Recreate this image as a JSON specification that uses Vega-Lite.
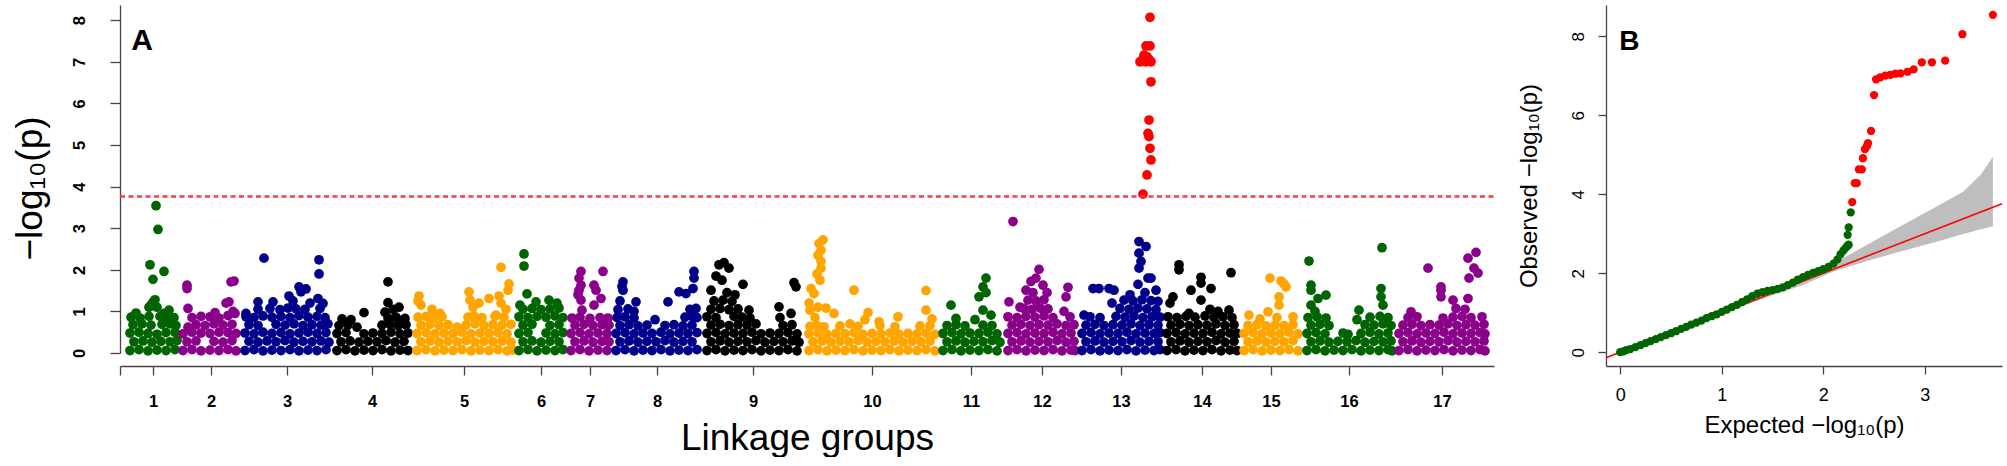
{
"$schema": "https://vega.github.io/schema/vega-lite/v6.json",
"background": "white",
"padding": {"left": 10, "top": 5, "right": 5, "bottom": 0},
"bounds": "flush",
"spacing": 112,
"config": {"view": {"stroke": null}, "font": "Liberation Sans",
 "axis": {"grid": false, "domainColor": "#444", "tickColor": "#444", "domainWidth": 1.3, "tickWidth": 1.3, "labelColor": "#000", "titleColor": "#000", "labelFont": "Liberation Sans", "titleFont": "Liberation Sans", "titleFontWeight": "normal", "labelOverlap": false, "labelFlush": false}},
"datasets": {
"man": [
{"g":1,"x":10,"y":0.06},{"g":1,"x":19,"y":0.08},{"g":1,"x":28,"y":0.05},{"g":1,"x":37,"y":0.07},{"g":1,"x":46,"y":0.06},{"g":1,"x":55,"y":0.08},
{"g":1,"x":14,"y":0.27},{"g":1,"x":23,"y":0.29},{"g":1,"x":32,"y":0.26},{"g":1,"x":41,"y":0.28},{"g":1,"x":50,"y":0.27},{"g":1,"x":57,"y":0.3},
{"g":1,"x":10,"y":0.48},{"g":1,"x":19,"y":0.5},{"g":1,"x":28,"y":0.47},{"g":1,"x":37,"y":0.45},{"g":1,"x":46,"y":0.49},{"g":1,"x":55,"y":0.5},
{"g":1,"x":13,"y":0.68},{"g":1,"x":22,"y":0.7},{"g":1,"x":31,"y":0.67},{"g":1,"x":42,"y":0.69},{"g":1,"x":50,"y":0.7},{"g":1,"x":56,"y":0.66},
{"g":1,"x":11,"y":0.86},{"g":1,"x":20,"y":0.84},{"g":1,"x":29,"y":0.88},{"g":1,"x":46,"y":0.87},{"g":1,"x":54,"y":0.85},
{"g":1,"x":16,"y":0.96},{"g":1,"x":29,"y":1.1},{"g":1,"x":33,"y":1.22},{"g":1,"x":35,"y":1.28},{"g":1,"x":31,"y":1.15},{"g":1,"x":37,"y":1.1},{"g":1,"x":49,"y":1.03},{"g":1,"x":44,"y":0.95},{"g":1,"x":36,"y":3.54},{"g":1,"x":38,"y":2.97},{"g":1,"x":30,"y":2.12},{"g":1,"x":44,"y":1.96},{"g":1,"x":33,"y":1.77},{"g":1,"x":40,"y":0.88},
{"g":2,"x":63,"y":0.06},{"g":2,"x":72,"y":0.08},{"g":2,"x":81,"y":0.05},{"g":2,"x":90,"y":0.07},{"g":2,"x":99,"y":0.06},{"g":2,"x":108,"y":0.08},{"g":2,"x":116,"y":0.05},
{"g":2,"x":67,"y":0.27},{"g":2,"x":76,"y":0.29},{"g":2,"x":94,"y":0.28},{"g":2,"x":103,"y":0.26},{"g":2,"x":112,"y":0.3},
{"g":2,"x":63,"y":0.46},{"g":2,"x":72,"y":0.5},{"g":2,"x":81,"y":0.48},{"g":2,"x":90,"y":0.47},{"g":2,"x":99,"y":0.5},{"g":2,"x":108,"y":0.49},{"g":2,"x":116,"y":0.47},
{"g":2,"x":68,"y":0.62},{"g":2,"x":76,"y":0.68},{"g":2,"x":85,"y":0.66},{"g":2,"x":94,"y":0.7},{"g":2,"x":103,"y":0.67},{"g":2,"x":112,"y":0.69},
{"g":2,"x":72,"y":0.85},{"g":2,"x":81,"y":0.88},{"g":2,"x":90,"y":0.87},{"g":2,"x":99,"y":0.84},{"g":2,"x":108,"y":0.9},{"g":2,"x":115,"y":0.95},
{"g":2,"x":67,"y":1.63},{"g":2,"x":67,"y":1.55},{"g":2,"x":68,"y":1.07},{"g":2,"x":114,"y":1.73},{"g":2,"x":111,"y":1.71},{"g":2,"x":109,"y":1.23},{"g":2,"x":106,"y":1.2},{"g":2,"x":113,"y":1.0},{"g":2,"x":95,"y":0.97},
{"g":3,"x":125,"y":0.06},{"g":3,"x":134,"y":0.08},{"g":3,"x":143,"y":0.05},{"g":3,"x":152,"y":0.07},{"g":3,"x":161,"y":0.06},{"g":3,"x":170,"y":0.08},{"g":3,"x":179,"y":0.05},{"g":3,"x":188,"y":0.07},{"g":3,"x":197,"y":0.06},{"g":3,"x":206,"y":0.08},
{"g":3,"x":129,"y":0.28},{"g":3,"x":138,"y":0.26},{"g":3,"x":147,"y":0.29},{"g":3,"x":156,"y":0.27},{"g":3,"x":165,"y":0.3},{"g":3,"x":174,"y":0.26},{"g":3,"x":183,"y":0.28},{"g":3,"x":192,"y":0.27},{"g":3,"x":201,"y":0.29},{"g":3,"x":209,"y":0.26},
{"g":3,"x":125,"y":0.48},{"g":3,"x":134,"y":0.46},{"g":3,"x":143,"y":0.5},{"g":3,"x":152,"y":0.47},{"g":3,"x":161,"y":0.49},{"g":3,"x":170,"y":0.46},{"g":3,"x":179,"y":0.48},{"g":3,"x":188,"y":0.5},{"g":3,"x":197,"y":0.47},{"g":3,"x":206,"y":0.49},
{"g":3,"x":129,"y":0.68},{"g":3,"x":138,"y":0.66},{"g":3,"x":156,"y":0.69},{"g":3,"x":165,"y":0.67},{"g":3,"x":174,"y":0.7},{"g":3,"x":183,"y":0.66},{"g":3,"x":192,"y":0.68},{"g":3,"x":201,"y":0.67},{"g":3,"x":208,"y":0.7},
{"g":3,"x":126,"y":0.87},{"g":3,"x":134,"y":0.85},{"g":3,"x":143,"y":0.89},{"g":3,"x":152,"y":0.86},{"g":3,"x":161,"y":0.88},{"g":3,"x":170,"y":0.85},{"g":3,"x":179,"y":0.9},{"g":3,"x":188,"y":0.86},{"g":3,"x":197,"y":0.88},{"g":3,"x":205,"y":0.85},
{"g":3,"x":138,"y":1.05},{"g":3,"x":150,"y":1.07},{"g":3,"x":160,"y":1.04},{"g":3,"x":168,"y":1.08},{"g":3,"x":176,"y":1.06},{"g":3,"x":185,"y":1.05},{"g":3,"x":200,"y":1.07},
{"g":3,"x":138,"y":1.23},{"g":3,"x":153,"y":1.23},{"g":3,"x":169,"y":1.37},{"g":3,"x":179,"y":1.59},{"g":3,"x":186,"y":1.54},{"g":3,"x":181,"y":1.47},{"g":3,"x":198,"y":1.31},{"g":3,"x":173,"y":1.25},{"g":3,"x":190,"y":1.2},{"g":3,"x":144,"y":2.28},{"g":3,"x":199,"y":2.24},{"g":3,"x":199,"y":1.9},{"g":3,"x":203,"y":1.19},{"g":3,"x":126,"y":0.95},
{"g":4,"x":217,"y":0.06},{"g":4,"x":226,"y":0.08},{"g":4,"x":235,"y":0.05},{"g":4,"x":244,"y":0.07},{"g":4,"x":253,"y":0.06},{"g":4,"x":262,"y":0.08},{"g":4,"x":271,"y":0.05},{"g":4,"x":280,"y":0.07},{"g":4,"x":288,"y":0.06},
{"g":4,"x":221,"y":0.27},{"g":4,"x":230,"y":0.29},{"g":4,"x":239,"y":0.26},{"g":4,"x":248,"y":0.28},{"g":4,"x":257,"y":0.27},{"g":4,"x":266,"y":0.3},{"g":4,"x":275,"y":0.26},{"g":4,"x":284,"y":0.28},
{"g":4,"x":217,"y":0.47},{"g":4,"x":226,"y":0.49},{"g":4,"x":244,"y":0.46},{"g":4,"x":253,"y":0.48},{"g":4,"x":262,"y":0.47},{"g":4,"x":271,"y":0.5},{"g":4,"x":280,"y":0.46},{"g":4,"x":288,"y":0.48},
{"g":4,"x":219,"y":0.66},{"g":4,"x":228,"y":0.68},{"g":4,"x":262,"y":0.67},{"g":4,"x":270,"y":0.69},{"g":4,"x":278,"y":0.66},{"g":4,"x":286,"y":0.68},
{"g":4,"x":222,"y":0.82},{"g":4,"x":231,"y":0.8},{"g":4,"x":268,"y":0.84},{"g":4,"x":276,"y":0.86},{"g":4,"x":285,"y":0.83},
{"g":4,"x":268,"y":1.71},{"g":4,"x":268,"y":1.21},{"g":4,"x":244,"y":0.97},{"g":4,"x":279,"y":1.1},{"g":4,"x":283,"y":0.79},{"g":4,"x":273,"y":1.05},{"g":4,"x":265,"y":0.98},{"g":4,"x":237,"y":0.62},
{"g":5,"x":297,"y":0.06},{"g":5,"x":306,"y":0.08},{"g":5,"x":315,"y":0.05},{"g":5,"x":324,"y":0.07},{"g":5,"x":333,"y":0.06},{"g":5,"x":342,"y":0.08},{"g":5,"x":351,"y":0.05},{"g":5,"x":360,"y":0.07},{"g":5,"x":369,"y":0.06},{"g":5,"x":378,"y":0.08},{"g":5,"x":387,"y":0.05},{"g":5,"x":393,"y":0.07},
{"g":5,"x":301,"y":0.27},{"g":5,"x":310,"y":0.29},{"g":5,"x":319,"y":0.26},{"g":5,"x":328,"y":0.28},{"g":5,"x":337,"y":0.27},{"g":5,"x":346,"y":0.3},{"g":5,"x":355,"y":0.26},{"g":5,"x":364,"y":0.28},{"g":5,"x":373,"y":0.27},{"g":5,"x":382,"y":0.29},{"g":5,"x":391,"y":0.26},
{"g":5,"x":297,"y":0.47},{"g":5,"x":306,"y":0.49},{"g":5,"x":315,"y":0.46},{"g":5,"x":324,"y":0.48},{"g":5,"x":333,"y":0.47},{"g":5,"x":342,"y":0.5},{"g":5,"x":351,"y":0.46},{"g":5,"x":360,"y":0.48},{"g":5,"x":369,"y":0.47},{"g":5,"x":378,"y":0.49},{"g":5,"x":387,"y":0.46},
{"g":5,"x":301,"y":0.67},{"g":5,"x":310,"y":0.69},{"g":5,"x":319,"y":0.66},{"g":5,"x":328,"y":0.68},{"g":5,"x":346,"y":0.67},{"g":5,"x":355,"y":0.7},{"g":5,"x":364,"y":0.66},{"g":5,"x":373,"y":0.68},{"g":5,"x":382,"y":0.67},{"g":5,"x":391,"y":0.69},
{"g":5,"x":298,"y":0.86},{"g":5,"x":306,"y":0.88},{"g":5,"x":314,"y":0.85},{"g":5,"x":322,"y":0.87},{"g":5,"x":348,"y":0.86},{"g":5,"x":354,"y":0.89},{"g":5,"x":362,"y":0.85},{"g":5,"x":375,"y":0.88},{"g":5,"x":384,"y":0.86},
{"g":5,"x":299,"y":1.37},{"g":5,"x":301,"y":1.15},{"g":5,"x":312,"y":1.05},{"g":5,"x":320,"y":0.95},{"g":5,"x":349,"y":1.47},{"g":5,"x":350,"y":1.27},{"g":5,"x":353,"y":1.1},{"g":5,"x":359,"y":1.2},{"g":5,"x":369,"y":1.31},{"g":5,"x":379,"y":1.37},{"g":5,"x":381,"y":1.2},{"g":5,"x":376,"y":0.91},{"g":5,"x":381,"y":2.06},{"g":5,"x":389,"y":1.66},{"g":5,"x":388,"y":1.51},{"g":5,"x":386,"y":1.05},{"g":5,"x":298,"y":1.25},{"g":5,"x":337,"y":0.62},
{"g":6,"x":399,"y":0.06},{"g":6,"x":408,"y":0.08},{"g":6,"x":417,"y":0.05},{"g":6,"x":426,"y":0.07},{"g":6,"x":435,"y":0.06},{"g":6,"x":443,"y":0.08},
{"g":6,"x":403,"y":0.27},{"g":6,"x":412,"y":0.29},{"g":6,"x":421,"y":0.26},{"g":6,"x":430,"y":0.28},{"g":6,"x":439,"y":0.27},
{"g":6,"x":399,"y":0.47},{"g":6,"x":408,"y":0.49},{"g":6,"x":426,"y":0.48},{"g":6,"x":435,"y":0.46},{"g":6,"x":443,"y":0.49},
{"g":6,"x":403,"y":0.67},{"g":6,"x":412,"y":0.69},{"g":6,"x":430,"y":0.66},{"g":6,"x":439,"y":0.68},
{"g":6,"x":399,"y":0.87},{"g":6,"x":408,"y":0.85},{"g":6,"x":417,"y":0.88},{"g":6,"x":426,"y":0.86},{"g":6,"x":435,"y":0.89},{"g":6,"x":443,"y":0.85},
{"g":6,"x":403,"y":1.05},{"g":6,"x":412,"y":1.07},{"g":6,"x":421,"y":1.04},{"g":6,"x":430,"y":1.06},{"g":6,"x":439,"y":1.08},
{"g":6,"x":404,"y":2.38},{"g":6,"x":404,"y":2.09},{"g":6,"x":407,"y":1.42},{"g":6,"x":429,"y":1.27},{"g":6,"x":416,"y":1.23},{"g":6,"x":437,"y":1.2},{"g":6,"x":400,"y":1.15},
{"g":7,"x":451,"y":0.06},{"g":7,"x":460,"y":0.08},{"g":7,"x":469,"y":0.05},{"g":7,"x":478,"y":0.07},{"g":7,"x":487,"y":0.06},
{"g":7,"x":455,"y":0.27},{"g":7,"x":464,"y":0.29},{"g":7,"x":473,"y":0.26},{"g":7,"x":482,"y":0.28},{"g":7,"x":489,"y":0.27},
{"g":7,"x":451,"y":0.47},{"g":7,"x":460,"y":0.49},{"g":7,"x":469,"y":0.46},{"g":7,"x":478,"y":0.48},{"g":7,"x":487,"y":0.47},
{"g":7,"x":455,"y":0.67},{"g":7,"x":464,"y":0.69},{"g":7,"x":473,"y":0.66},{"g":7,"x":482,"y":0.68},{"g":7,"x":489,"y":0.67},
{"g":7,"x":452,"y":0.84},{"g":7,"x":460,"y":0.86},{"g":7,"x":470,"y":0.83},{"g":7,"x":480,"y":0.85},{"g":7,"x":488,"y":0.84},
{"g":7,"x":461,"y":1.96},{"g":7,"x":459,"y":1.8},{"g":7,"x":461,"y":1.63},{"g":7,"x":459,"y":1.51},{"g":7,"x":461,"y":1.27},{"g":7,"x":483,"y":1.96},{"g":7,"x":474,"y":1.63},{"g":7,"x":476,"y":1.51},{"g":7,"x":481,"y":1.31},{"g":7,"x":474,"y":1.15},{"g":7,"x":462,"y":1.03},{"g":7,"x":458,"y":1.4},
{"g":8,"x":496,"y":0.06},{"g":8,"x":505,"y":0.08},{"g":8,"x":514,"y":0.05},{"g":8,"x":523,"y":0.07},{"g":8,"x":532,"y":0.06},{"g":8,"x":541,"y":0.08},{"g":8,"x":550,"y":0.05},{"g":8,"x":559,"y":0.07},{"g":8,"x":568,"y":0.06},{"g":8,"x":577,"y":0.08},
{"g":8,"x":500,"y":0.27},{"g":8,"x":509,"y":0.29},{"g":8,"x":518,"y":0.26},{"g":8,"x":527,"y":0.28},{"g":8,"x":536,"y":0.27},{"g":8,"x":545,"y":0.3},{"g":8,"x":554,"y":0.26},{"g":8,"x":563,"y":0.28},{"g":8,"x":572,"y":0.27},
{"g":8,"x":496,"y":0.47},{"g":8,"x":505,"y":0.49},{"g":8,"x":514,"y":0.46},{"g":8,"x":523,"y":0.48},{"g":8,"x":532,"y":0.47},{"g":8,"x":541,"y":0.5},{"g":8,"x":550,"y":0.46},{"g":8,"x":559,"y":0.48},{"g":8,"x":568,"y":0.47},{"g":8,"x":577,"y":0.49},
{"g":8,"x":500,"y":0.66},{"g":8,"x":509,"y":0.68},{"g":8,"x":518,"y":0.65},{"g":8,"x":527,"y":0.67},{"g":8,"x":545,"y":0.66},{"g":8,"x":554,"y":0.68},{"g":8,"x":563,"y":0.65},{"g":8,"x":572,"y":0.67},
{"g":8,"x":497,"y":0.85},{"g":8,"x":505,"y":0.87},{"g":8,"x":514,"y":0.84},{"g":8,"x":565,"y":0.86},{"g":8,"x":572,"y":0.88},{"g":8,"x":577,"y":0.85},
{"g":8,"x":498,"y":1.04},{"g":8,"x":508,"y":1.06},{"g":8,"x":570,"y":1.05},{"g":8,"x":576,"y":1.07},
{"g":8,"x":503,"y":1.71},{"g":8,"x":503,"y":1.51},{"g":8,"x":502,"y":1.6},{"g":8,"x":516,"y":1.23},{"g":8,"x":514,"y":1.0},{"g":8,"x":574,"y":1.96},{"g":8,"x":574,"y":1.8},{"g":8,"x":559,"y":1.47},{"g":8,"x":548,"y":1.23},{"g":8,"x":566,"y":1.43},{"g":8,"x":573,"y":1.55},{"g":8,"x":500,"y":1.25},{"g":8,"x":535,"y":0.8},
{"g":9,"x":587,"y":0.06},{"g":9,"x":596,"y":0.08},{"g":9,"x":605,"y":0.05},{"g":9,"x":614,"y":0.07},{"g":9,"x":623,"y":0.06},{"g":9,"x":632,"y":0.08},{"g":9,"x":641,"y":0.05},{"g":9,"x":650,"y":0.07},{"g":9,"x":659,"y":0.06},{"g":9,"x":668,"y":0.08},{"g":9,"x":677,"y":0.05},
{"g":9,"x":591,"y":0.27},{"g":9,"x":600,"y":0.29},{"g":9,"x":609,"y":0.26},{"g":9,"x":618,"y":0.28},{"g":9,"x":627,"y":0.27},{"g":9,"x":636,"y":0.3},{"g":9,"x":645,"y":0.26},{"g":9,"x":654,"y":0.28},{"g":9,"x":663,"y":0.27},{"g":9,"x":672,"y":0.29},{"g":9,"x":679,"y":0.26},
{"g":9,"x":587,"y":0.47},{"g":9,"x":596,"y":0.49},{"g":9,"x":605,"y":0.46},{"g":9,"x":614,"y":0.48},{"g":9,"x":623,"y":0.47},{"g":9,"x":632,"y":0.5},{"g":9,"x":641,"y":0.46},{"g":9,"x":650,"y":0.48},{"g":9,"x":659,"y":0.47},{"g":9,"x":668,"y":0.49},{"g":9,"x":677,"y":0.46},
{"g":9,"x":591,"y":0.67},{"g":9,"x":600,"y":0.69},{"g":9,"x":609,"y":0.66},{"g":9,"x":618,"y":0.68},{"g":9,"x":627,"y":0.67},{"g":9,"x":636,"y":0.7},{"g":9,"x":663,"y":0.66},{"g":9,"x":672,"y":0.68},
{"g":9,"x":587,"y":0.87},{"g":9,"x":596,"y":0.85},{"g":9,"x":614,"y":0.88},{"g":9,"x":622,"y":0.86},{"g":9,"x":630,"y":0.84},
{"g":9,"x":591,"y":1.05},{"g":9,"x":600,"y":1.07},{"g":9,"x":609,"y":1.04},{"g":9,"x":618,"y":1.06},
{"g":9,"x":594,"y":1.25},{"g":9,"x":603,"y":1.27},{"g":9,"x":612,"y":1.24},
{"g":9,"x":604,"y":2.17},{"g":9,"x":599,"y":2.12},{"g":9,"x":609,"y":2.04},{"g":9,"x":596,"y":1.85},{"g":9,"x":602,"y":1.75},{"g":9,"x":623,"y":1.65},{"g":9,"x":591,"y":1.51},{"g":9,"x":607,"y":1.45},{"g":9,"x":615,"y":1.4},{"g":9,"x":629,"y":1.03},{"g":9,"x":674,"y":1.69},{"g":9,"x":676,"y":1.59},{"g":9,"x":659,"y":1.11},{"g":9,"x":671,"y":0.95},{"g":9,"x":660,"y":0.85},
{"g":10,"x":689,"y":0.06},{"g":10,"x":698,"y":0.08},{"g":10,"x":707,"y":0.05},{"g":10,"x":716,"y":0.07},{"g":10,"x":725,"y":0.06},{"g":10,"x":734,"y":0.08},{"g":10,"x":743,"y":0.05},{"g":10,"x":752,"y":0.07},{"g":10,"x":761,"y":0.06},{"g":10,"x":770,"y":0.08},{"g":10,"x":779,"y":0.05},{"g":10,"x":788,"y":0.07},{"g":10,"x":797,"y":0.06},{"g":10,"x":806,"y":0.08},{"g":10,"x":815,"y":0.05},
{"g":10,"x":693,"y":0.27},{"g":10,"x":702,"y":0.29},{"g":10,"x":711,"y":0.26},{"g":10,"x":720,"y":0.28},{"g":10,"x":729,"y":0.27},{"g":10,"x":738,"y":0.3},{"g":10,"x":747,"y":0.26},{"g":10,"x":756,"y":0.28},{"g":10,"x":765,"y":0.27},{"g":10,"x":774,"y":0.29},{"g":10,"x":783,"y":0.26},{"g":10,"x":792,"y":0.28},{"g":10,"x":801,"y":0.27},{"g":10,"x":810,"y":0.29},
{"g":10,"x":689,"y":0.46},{"g":10,"x":698,"y":0.48},{"g":10,"x":707,"y":0.45},{"g":10,"x":716,"y":0.47},{"g":10,"x":725,"y":0.46},{"g":10,"x":734,"y":0.49},{"g":10,"x":743,"y":0.45},{"g":10,"x":752,"y":0.47},{"g":10,"x":761,"y":0.46},{"g":10,"x":770,"y":0.48},{"g":10,"x":779,"y":0.45},{"g":10,"x":788,"y":0.47},{"g":10,"x":797,"y":0.46},{"g":10,"x":806,"y":0.48},{"g":10,"x":815,"y":0.45},
{"g":10,"x":690,"y":0.64},{"g":10,"x":697,"y":0.66},{"g":10,"x":704,"y":0.63},{"g":10,"x":720,"y":0.65},{"g":10,"x":730,"y":0.7},{"g":10,"x":738,"y":0.64},{"g":10,"x":745,"y":0.8},{"g":10,"x":760,"y":0.66},{"g":10,"x":775,"y":0.63},{"g":10,"x":800,"y":0.65},{"g":10,"x":810,"y":0.66},
{"g":10,"x":703,"y":2.72},{"g":10,"x":699,"y":2.63},{"g":10,"x":701,"y":2.47},{"g":10,"x":698,"y":2.35},{"g":10,"x":701,"y":2.2},{"g":10,"x":701,"y":2.04},{"g":10,"x":697,"y":1.9},{"g":10,"x":700,"y":1.75},{"g":10,"x":691,"y":1.55},{"g":10,"x":694,"y":1.43},{"g":10,"x":689,"y":1.2},{"g":10,"x":690,"y":1.03},{"g":10,"x":698,"y":1.1},{"g":10,"x":695,"y":0.85},{"g":10,"x":706,"y":1.08},{"g":10,"x":714,"y":0.95},{"g":10,"x":734,"y":1.51},{"g":10,"x":748,"y":0.97},{"g":10,"x":778,"y":0.87},{"g":10,"x":806,"y":1.5},{"g":10,"x":806,"y":1.03},{"g":10,"x":759,"y":0.75},{"g":10,"x":812,"y":0.82},
{"g":11,"x":823,"y":0.06},{"g":11,"x":832,"y":0.08},{"g":11,"x":841,"y":0.05},{"g":11,"x":850,"y":0.07},{"g":11,"x":859,"y":0.06},{"g":11,"x":868,"y":0.08},{"g":11,"x":877,"y":0.05},
{"g":11,"x":827,"y":0.27},{"g":11,"x":836,"y":0.29},{"g":11,"x":845,"y":0.26},{"g":11,"x":854,"y":0.28},{"g":11,"x":863,"y":0.27},{"g":11,"x":872,"y":0.3},{"g":11,"x":880,"y":0.26},
{"g":11,"x":823,"y":0.47},{"g":11,"x":832,"y":0.49},{"g":11,"x":841,"y":0.46},{"g":11,"x":850,"y":0.48},{"g":11,"x":859,"y":0.47},{"g":11,"x":868,"y":0.5},{"g":11,"x":877,"y":0.46},
{"g":11,"x":827,"y":0.66},{"g":11,"x":836,"y":0.68},{"g":11,"x":845,"y":0.65},{"g":11,"x":863,"y":0.67},{"g":11,"x":872,"y":0.66},
{"g":11,"x":866,"y":1.8},{"g":11,"x":863,"y":1.59},{"g":11,"x":859,"y":1.35},{"g":11,"x":831,"y":1.15},{"g":11,"x":836,"y":0.83},{"g":11,"x":871,"y":0.91},{"g":11,"x":863,"y":1.03},{"g":11,"x":866,"y":1.45},{"g":11,"x":855,"y":0.8},
{"g":12,"x":888,"y":0.06},{"g":12,"x":897,"y":0.08},{"g":12,"x":906,"y":0.05},{"g":12,"x":915,"y":0.07},{"g":12,"x":924,"y":0.06},{"g":12,"x":933,"y":0.08},{"g":12,"x":942,"y":0.05},{"g":12,"x":951,"y":0.07},{"g":12,"x":955,"y":0.06},
{"g":12,"x":892,"y":0.27},{"g":12,"x":901,"y":0.29},{"g":12,"x":910,"y":0.26},{"g":12,"x":919,"y":0.28},{"g":12,"x":928,"y":0.27},{"g":12,"x":937,"y":0.3},{"g":12,"x":946,"y":0.26},{"g":12,"x":954,"y":0.28},
{"g":12,"x":888,"y":0.47},{"g":12,"x":897,"y":0.49},{"g":12,"x":906,"y":0.46},{"g":12,"x":915,"y":0.48},{"g":12,"x":924,"y":0.47},{"g":12,"x":933,"y":0.5},{"g":12,"x":942,"y":0.46},{"g":12,"x":951,"y":0.48},
{"g":12,"x":892,"y":0.67},{"g":12,"x":901,"y":0.69},{"g":12,"x":910,"y":0.66},{"g":12,"x":919,"y":0.68},{"g":12,"x":928,"y":0.67},{"g":12,"x":937,"y":0.7},{"g":12,"x":946,"y":0.66},{"g":12,"x":954,"y":0.68},
{"g":12,"x":888,"y":0.87},{"g":12,"x":897,"y":0.85},{"g":12,"x":906,"y":0.88},{"g":12,"x":915,"y":0.86},{"g":12,"x":924,"y":0.89},{"g":12,"x":933,"y":0.85},{"g":12,"x":950,"y":0.87},
{"g":12,"x":904,"y":1.07},{"g":12,"x":912,"y":1.05},{"g":12,"x":920,"y":1.08},{"g":12,"x":928,"y":1.06},
{"g":12,"x":908,"y":1.27},{"g":12,"x":916,"y":1.25},{"g":12,"x":924,"y":1.28},
{"g":12,"x":893,"y":3.16},{"g":12,"x":919,"y":2.01},{"g":12,"x":911,"y":1.72},{"g":12,"x":916,"y":1.8},{"g":12,"x":923,"y":1.63},{"g":12,"x":906,"y":1.51},{"g":12,"x":927,"y":1.45},{"g":12,"x":889,"y":1.23},{"g":12,"x":948,"y":1.58},{"g":12,"x":946,"y":1.35},{"g":12,"x":944,"y":1.0},{"g":12,"x":913,"y":1.45},{"g":12,"x":900,"y":1.1},
{"g":13,"x":962,"y":0.06},{"g":13,"x":971,"y":0.08},{"g":13,"x":980,"y":0.05},{"g":13,"x":989,"y":0.07},{"g":13,"x":998,"y":0.06},{"g":13,"x":1007,"y":0.08},{"g":13,"x":1016,"y":0.05},{"g":13,"x":1025,"y":0.07},{"g":13,"x":1034,"y":0.06},{"g":13,"x":1040,"y":0.08},
{"g":13,"x":966,"y":0.27},{"g":13,"x":975,"y":0.29},{"g":13,"x":984,"y":0.26},{"g":13,"x":993,"y":0.28},{"g":13,"x":1002,"y":0.27},{"g":13,"x":1011,"y":0.3},{"g":13,"x":1020,"y":0.26},{"g":13,"x":1029,"y":0.28},{"g":13,"x":1038,"y":0.27},
{"g":13,"x":962,"y":0.47},{"g":13,"x":971,"y":0.49},{"g":13,"x":980,"y":0.46},{"g":13,"x":989,"y":0.48},{"g":13,"x":998,"y":0.47},{"g":13,"x":1007,"y":0.5},{"g":13,"x":1016,"y":0.46},{"g":13,"x":1025,"y":0.48},{"g":13,"x":1034,"y":0.47},{"g":13,"x":1040,"y":0.49},
{"g":13,"x":966,"y":0.67},{"g":13,"x":975,"y":0.69},{"g":13,"x":984,"y":0.66},{"g":13,"x":993,"y":0.68},{"g":13,"x":1002,"y":0.67},{"g":13,"x":1011,"y":0.7},{"g":13,"x":1020,"y":0.66},{"g":13,"x":1029,"y":0.68},{"g":13,"x":1038,"y":0.67},
{"g":13,"x":970,"y":0.87},{"g":13,"x":980,"y":0.85},{"g":13,"x":996,"y":0.88},{"g":13,"x":1005,"y":0.86},{"g":13,"x":1014,"y":0.89},{"g":13,"x":1023,"y":0.85},{"g":13,"x":1032,"y":0.87},{"g":13,"x":1040,"y":0.86},
{"g":13,"x":1000,"y":1.07},{"g":13,"x":1009,"y":1.05},{"g":13,"x":1018,"y":1.08},{"g":13,"x":1027,"y":1.06},{"g":13,"x":1036,"y":1.04},
{"g":13,"x":1004,"y":1.27},{"g":13,"x":1013,"y":1.25},{"g":13,"x":1022,"y":1.28},{"g":13,"x":1031,"y":1.26},{"g":13,"x":1038,"y":1.24},
{"g":13,"x":964,"y":0.91},{"g":13,"x":973,"y":1.55},{"g":13,"x":979,"y":1.55},{"g":13,"x":989,"y":1.55},{"g":13,"x":994,"y":1.51},{"g":13,"x":992,"y":1.2},{"g":13,"x":1019,"y":2.68},{"g":13,"x":1026,"y":2.56},{"g":13,"x":1019,"y":2.4},{"g":13,"x":1021,"y":2.2},{"g":13,"x":1019,"y":2.04},{"g":13,"x":1028,"y":1.8},{"g":13,"x":1031,"y":1.8},{"g":13,"x":1036,"y":1.51},{"g":13,"x":1018,"y":1.65},{"g":13,"x":1025,"y":1.45},{"g":13,"x":1010,"y":1.4},
{"g":13,"x":1030,"y":8.07},{"g":13,"x":1026,"y":7.38},{"g":13,"x":1030,"y":7.38},{"g":13,"x":1024,"y":7.16},{"g":13,"x":1027,"y":7.12},{"g":13,"x":1020,"y":7.0},{"g":13,"x":1022,"y":7.04},{"g":13,"x":1026,"y":7.0},{"g":13,"x":1029,"y":7.06},{"g":13,"x":1031,"y":7.0},{"g":13,"x":1031,"y":6.52},{"g":13,"x":1029,"y":5.6},{"g":13,"x":1028,"y":5.28},{"g":13,"x":1029,"y":5.2},{"g":13,"x":1030,"y":4.92},{"g":13,"x":1031,"y":4.64},{"g":13,"x":1027,"y":4.28},{"g":13,"x":1023,"y":3.82},
{"g":14,"x":1047,"y":0.06},{"g":14,"x":1056,"y":0.08},{"g":14,"x":1065,"y":0.05},{"g":14,"x":1074,"y":0.07},{"g":14,"x":1083,"y":0.06},{"g":14,"x":1092,"y":0.08},{"g":14,"x":1101,"y":0.05},{"g":14,"x":1110,"y":0.07},{"g":14,"x":1117,"y":0.06},
{"g":14,"x":1051,"y":0.27},{"g":14,"x":1060,"y":0.29},{"g":14,"x":1069,"y":0.26},{"g":14,"x":1078,"y":0.28},{"g":14,"x":1087,"y":0.27},{"g":14,"x":1096,"y":0.3},{"g":14,"x":1105,"y":0.26},{"g":14,"x":1114,"y":0.28},
{"g":14,"x":1047,"y":0.47},{"g":14,"x":1056,"y":0.49},{"g":14,"x":1065,"y":0.46},{"g":14,"x":1074,"y":0.48},{"g":14,"x":1083,"y":0.47},{"g":14,"x":1092,"y":0.5},{"g":14,"x":1101,"y":0.46},{"g":14,"x":1110,"y":0.48},{"g":14,"x":1117,"y":0.47},
{"g":14,"x":1051,"y":0.67},{"g":14,"x":1060,"y":0.69},{"g":14,"x":1069,"y":0.66},{"g":14,"x":1078,"y":0.68},{"g":14,"x":1087,"y":0.67},{"g":14,"x":1096,"y":0.7},{"g":14,"x":1105,"y":0.66},{"g":14,"x":1114,"y":0.68},
{"g":14,"x":1048,"y":0.87},{"g":14,"x":1057,"y":0.85},{"g":14,"x":1066,"y":0.88},{"g":14,"x":1075,"y":0.86},{"g":14,"x":1085,"y":0.89},{"g":14,"x":1094,"y":0.85},{"g":14,"x":1103,"y":0.87},
{"g":14,"x":1059,"y":2.12},{"g":14,"x":1059,"y":2.0},{"g":14,"x":1111,"y":1.93},{"g":14,"x":1081,"y":1.82},{"g":14,"x":1091,"y":1.55},{"g":14,"x":1081,"y":1.68},{"g":14,"x":1071,"y":1.51},{"g":14,"x":1081,"y":1.27},{"g":14,"x":1053,"y":1.35},{"g":14,"x":1109,"y":1.03},{"g":14,"x":1050,"y":1.2},{"g":14,"x":1069,"y":0.95},{"g":14,"x":1090,"y":1.05},{"g":14,"x":1098,"y":1.0},{"g":14,"x":1112,"y":0.85},
{"g":15,"x":1124,"y":0.06},{"g":15,"x":1133,"y":0.08},{"g":15,"x":1142,"y":0.05},{"g":15,"x":1151,"y":0.07},{"g":15,"x":1160,"y":0.06},{"g":15,"x":1169,"y":0.08},{"g":15,"x":1178,"y":0.05},
{"g":15,"x":1128,"y":0.27},{"g":15,"x":1137,"y":0.29},{"g":15,"x":1146,"y":0.26},{"g":15,"x":1155,"y":0.28},{"g":15,"x":1164,"y":0.27},{"g":15,"x":1173,"y":0.3},
{"g":15,"x":1124,"y":0.47},{"g":15,"x":1133,"y":0.49},{"g":15,"x":1142,"y":0.46},{"g":15,"x":1151,"y":0.48},{"g":15,"x":1160,"y":0.47},{"g":15,"x":1169,"y":0.5},{"g":15,"x":1178,"y":0.46},
{"g":15,"x":1128,"y":0.66},{"g":15,"x":1137,"y":0.68},{"g":15,"x":1146,"y":0.65},{"g":15,"x":1155,"y":0.67},{"g":15,"x":1164,"y":0.66},{"g":15,"x":1173,"y":0.68},
{"g":15,"x":1150,"y":1.8},{"g":15,"x":1161,"y":1.73},{"g":15,"x":1166,"y":1.59},{"g":15,"x":1159,"y":1.35},{"g":15,"x":1159,"y":1.15},{"g":15,"x":1129,"y":0.91},{"g":15,"x":1148,"y":0.99},{"g":15,"x":1173,"y":0.87},{"g":15,"x":1140,"y":0.82},{"g":15,"x":1157,"y":0.85},{"g":15,"x":1164,"y":1.66},
{"g":16,"x":1187,"y":0.06},{"g":16,"x":1196,"y":0.08},{"g":16,"x":1205,"y":0.05},{"g":16,"x":1214,"y":0.07},{"g":16,"x":1223,"y":0.06},{"g":16,"x":1232,"y":0.08},{"g":16,"x":1241,"y":0.05},{"g":16,"x":1250,"y":0.07},{"g":16,"x":1259,"y":0.06},{"g":16,"x":1268,"y":0.08},{"g":16,"x":1272,"y":0.05},
{"g":16,"x":1191,"y":0.27},{"g":16,"x":1200,"y":0.29},{"g":16,"x":1209,"y":0.26},{"g":16,"x":1218,"y":0.28},{"g":16,"x":1227,"y":0.27},{"g":16,"x":1236,"y":0.3},{"g":16,"x":1245,"y":0.26},{"g":16,"x":1254,"y":0.28},{"g":16,"x":1263,"y":0.27},{"g":16,"x":1271,"y":0.29},
{"g":16,"x":1187,"y":0.47},{"g":16,"x":1196,"y":0.49},{"g":16,"x":1205,"y":0.46},{"g":16,"x":1223,"y":0.48},{"g":16,"x":1241,"y":0.47},{"g":16,"x":1250,"y":0.5},{"g":16,"x":1259,"y":0.46},{"g":16,"x":1268,"y":0.48},
{"g":16,"x":1191,"y":0.67},{"g":16,"x":1200,"y":0.69},{"g":16,"x":1209,"y":0.66},{"g":16,"x":1245,"y":0.68},{"g":16,"x":1254,"y":0.67},{"g":16,"x":1263,"y":0.7},{"g":16,"x":1271,"y":0.66},
{"g":16,"x":1188,"y":0.85},{"g":16,"x":1197,"y":0.87},{"g":16,"x":1206,"y":0.84},{"g":16,"x":1250,"y":0.86},{"g":16,"x":1260,"y":0.88},{"g":16,"x":1268,"y":0.85},
{"g":16,"x":1189,"y":2.21},{"g":16,"x":1262,"y":2.53},{"g":16,"x":1261,"y":1.55},{"g":16,"x":1261,"y":1.35},{"g":16,"x":1191,"y":1.63},{"g":16,"x":1191,"y":1.51},{"g":16,"x":1198,"y":1.31},{"g":16,"x":1206,"y":1.39},{"g":16,"x":1191,"y":1.15},{"g":16,"x":1195,"y":1.0},{"g":16,"x":1239,"y":1.03},{"g":16,"x":1263,"y":1.15},{"g":16,"x":1228,"y":0.45},{"g":16,"x":1237,"y":0.8},
{"g":17,"x":1279,"y":0.06},{"g":17,"x":1288,"y":0.08},{"g":17,"x":1297,"y":0.05},{"g":17,"x":1306,"y":0.07},{"g":17,"x":1315,"y":0.06},{"g":17,"x":1324,"y":0.08},{"g":17,"x":1333,"y":0.05},{"g":17,"x":1342,"y":0.07},{"g":17,"x":1351,"y":0.06},{"g":17,"x":1360,"y":0.08},{"g":17,"x":1365,"y":0.05},
{"g":17,"x":1283,"y":0.27},{"g":17,"x":1292,"y":0.29},{"g":17,"x":1301,"y":0.26},{"g":17,"x":1310,"y":0.28},{"g":17,"x":1319,"y":0.27},{"g":17,"x":1328,"y":0.3},{"g":17,"x":1337,"y":0.26},{"g":17,"x":1346,"y":0.28},{"g":17,"x":1355,"y":0.27},{"g":17,"x":1364,"y":0.29},
{"g":17,"x":1279,"y":0.47},{"g":17,"x":1288,"y":0.49},{"g":17,"x":1297,"y":0.46},{"g":17,"x":1306,"y":0.48},{"g":17,"x":1315,"y":0.47},{"g":17,"x":1324,"y":0.5},{"g":17,"x":1333,"y":0.46},{"g":17,"x":1342,"y":0.48},{"g":17,"x":1351,"y":0.47},{"g":17,"x":1360,"y":0.49},{"g":17,"x":1365,"y":0.46},
{"g":17,"x":1283,"y":0.67},{"g":17,"x":1292,"y":0.69},{"g":17,"x":1301,"y":0.66},{"g":17,"x":1310,"y":0.68},{"g":17,"x":1319,"y":0.67},{"g":17,"x":1328,"y":0.7},{"g":17,"x":1337,"y":0.66},{"g":17,"x":1346,"y":0.68},{"g":17,"x":1355,"y":0.67},{"g":17,"x":1364,"y":0.69},
{"g":17,"x":1288,"y":0.85},{"g":17,"x":1297,"y":0.87},{"g":17,"x":1323,"y":0.84},{"g":17,"x":1333,"y":0.86},{"g":17,"x":1342,"y":0.88},{"g":17,"x":1351,"y":0.85},{"g":17,"x":1362,"y":0.87},
{"g":17,"x":1308,"y":2.04},{"g":17,"x":1356,"y":2.42},{"g":17,"x":1348,"y":2.28},{"g":17,"x":1354,"y":2.04},{"g":17,"x":1358,"y":1.92},{"g":17,"x":1349,"y":1.8},{"g":17,"x":1321,"y":1.59},{"g":17,"x":1321,"y":1.51},{"g":17,"x":1333,"y":1.27},{"g":17,"x":1348,"y":1.31},{"g":17,"x":1336,"y":1.07},{"g":17,"x":1291,"y":0.99},{"g":17,"x":1321,"y":1.35},{"g":17,"x":1345,"y":1.05}
],
"thr": [{"x":0,"x2":1374,"y":3.76}],
"labA": [{"x":22,"y":7.5,"label":"A"}],
"qq": [
{"x":0,"y":0},{"x":0.03,"y":0.02},{"x":0.06,"y":0.05},{"x":0.1,"y":0.08},{"x":0.15,"y":0.13},{"x":0.2,"y":0.18},{"x":0.25,"y":0.23},{"x":0.3,"y":0.28},{"x":0.35,"y":0.33},{"x":0.4,"y":0.38},{"x":0.45,"y":0.43},{"x":0.5,"y":0.48},{"x":0.55,"y":0.53},{"x":0.6,"y":0.59},{"x":0.65,"y":0.64},{"x":0.7,"y":0.7},{"x":0.75,"y":0.75},{"x":0.8,"y":0.8},{"x":0.85,"y":0.86},{"x":0.9,"y":0.91},{"x":0.95,"y":0.96},{"x":1.0,"y":1.02},{"x":1.05,"y":1.08},{"x":1.1,"y":1.14},{"x":1.15,"y":1.2},{"x":1.2,"y":1.27},{"x":1.25,"y":1.34},{"x":1.3,"y":1.42},{"x":1.35,"y":1.48},{"x":1.4,"y":1.52},{"x":1.45,"y":1.55},{"x":1.5,"y":1.57},{"x":1.55,"y":1.6},{"x":1.6,"y":1.64},{"x":1.65,"y":1.7},{"x":1.7,"y":1.76},{"x":1.75,"y":1.84},{"x":1.8,"y":1.9},{"x":1.85,"y":1.96},{"x":1.9,"y":2.01},{"x":1.95,"y":2.05},{"x":2.0,"y":2.1},{"x":2.05,"y":2.16},{"x":2.1,"y":2.24},{"x":2.14,"y":2.35},{"x":2.17,"y":2.48},{"x":2.2,"y":2.58},{"x":2.22,"y":2.64},{"x":2.24,"y":2.7},{"x":2.25,"y":2.72},{"x":2.24,"y":2.97},{"x":2.25,"y":3.16},{"x":2.27,"y":3.54},
{"x":2.285,"y":3.8},{"x":2.31,"y":4.28},{"x":2.33,"y":4.28},{"x":2.35,"y":4.63},{"x":2.38,"y":4.63},{"x":2.39,"y":4.91},{"x":2.41,"y":5.14},{"x":2.43,"y":5.22},{"x":2.44,"y":5.29},{"x":2.47,"y":5.6},{"x":2.5,"y":6.51},{"x":2.52,"y":6.91},{"x":2.56,"y":6.96},{"x":2.61,"y":7.0},{"x":2.66,"y":7.02},{"x":2.71,"y":7.05},{"x":2.76,"y":7.06},{"x":2.83,"y":7.1},{"x":2.89,"y":7.16},{"x":2.97,"y":7.34},{"x":3.07,"y":7.34},{"x":3.2,"y":7.38},{"x":3.37,"y":8.05},{"x":3.67,"y":8.54}
],
"band": [
{"x":0,"y":0,"y2":0.01},{"x":0.5,"y":0.49,"y2":0.51},{"x":1.0,"y":0.97,"y2":1.04},{"x":1.5,"y":1.44,"y2":1.57},{"x":1.8,"y":1.7,"y2":1.9},{"x":2.1,"y":2.04,"y2":2.24},{"x":2.43,"y":2.31,"y2":2.72},{"x":2.76,"y":2.55,"y2":3.19},{"x":3.09,"y":2.78,"y2":3.65},{"x":3.38,"y":2.99,"y2":4.07},{"x":3.55,"y":3.11,"y2":4.49},{"x":3.67,"y":3.18,"y2":4.95}
],
"ref": [{"x":-0.14,"y":-0.14},{"x":3.76,"y":3.76}],
"labB": [{"x":0.09,"y":7.86,"label":"B"}]
},
"hconcat": [
{
"width": 1374, "height": 348,
"encoding": {
 "x": {"field":"x","type":"quantitative","scale":{"domain":[0,1374],"nice":false,"zero":false},
  "axis":{"title":"Linkage groups","values":[0,33,91,167,252,344,421,470,537,633,752,851,922,1001,1082,1151,1229,1322],
   "labelExpr":"datum.value == 0 ? '' : '' + (indexof([33,91,167,252,344,421,470,537,633,752,851,922,1001,1082,1151,1229,1322], datum.value) + 1)",
   "offset":13,"tickSize":9,"labelFontSize":16.5,"labelFontWeight":"bold","labelPadding":18,"titleFontSize":37,"titlePadding":11}},
 "y": {"field":"y","type":"quantitative","scale":{"domain":[0,8.365],"nice":false},
  "axis":{"title":"−log₁₀(p)","values":[0,1,2,3,4,5,6,7,8],"tickSize":10,"labelAngle":-90,"labelAlign":"center","labelBaseline":"bottom","labelPadding":23,"labelFontSize":16.5,"labelFontWeight":"bold","titleFontSize":37,"titlePadding":22,"titleY":183}}
},
"layer": [
 {"data":{"name":"man"},"mark":{"type":"circle","size":95,"opacity":1},
  "encoding":{"color":{"condition":{"test":"datum.y > 3.76","value":"#FF0000"},"field":"g","type":"nominal",
   "scale":{"domain":[1,2,3,4,5,6,7,8,9,10,11,12,13,14,15,16,17],"range":["#006400","#8B008B","#00008B","#000000","#FFA500","#006400","#8B008B","#00008B","#000000","#FFA500","#006400","#8B008B","#00008B","#000000","#FFA500","#006400","#8B008B"]},"legend":null}}},
 {"data":{"name":"thr"},"mark":{"type":"rule","color":"#FF3B3B","strokeWidth":2.5,"strokeDash":[5,3.5]},"encoding":{"x2":{"field":"x2"}}},
 {"data":{"name":"labA"},"mark":{"type":"text","fontSize":30,"fontWeight":"bold","align":"center","baseline":"middle","color":"#000"},"encoding":{"text":{"field":"label"}}}
]
},
{
"width": 396, "height": 361,
"encoding": {
 "x": {"field":"x","type":"quantitative","scale":{"domain":[-0.14,3.76],"nice":false,"zero":false},
  "axis":{"title":"Expected  −log₁₀(p)","values":[0,1,2,3],"tickSize":8,"labelFontSize":18,"labelPadding":12,"titleFontSize":24,"titlePadding":9}},
 "y": {"field":"y","type":"quantitative","scale":{"domain":[-0.35,8.79],"nice":false,"zero":false},
  "axis":{"title":"Observed  −log₁₀(p)","values":[0,2,4,6,8],"tickSize":8,"labelAngle":-90,"labelAlign":"center","labelBaseline":"bottom","labelPadding":11,"labelFontSize":17,"titleFontSize":24,"titlePadding":28}}
},
"layer": [
 {"data":{"name":"band"},"mark":{"type":"area","color":"#BEBEBE","opacity":1},"encoding":{"y2":{"field":"y2"}}},
 {"data":{"name":"ref"},"mark":{"type":"line","color":"#FF0000","strokeWidth":1.6},"encoding":{}},
 {"data":{"name":"qq"},"mark":{"type":"circle","size":68,"opacity":1},
  "encoding":{"color":{"condition":{"test":"datum.y > 3.76","value":"#FF0000"},"value":"#006400"}}},
 {"data":{"name":"labB"},"mark":{"type":"text","fontSize":28,"fontWeight":"bold","align":"center","baseline":"middle","color":"#000"},"encoding":{"text":{"field":"label"}}}
]
}
]
}
